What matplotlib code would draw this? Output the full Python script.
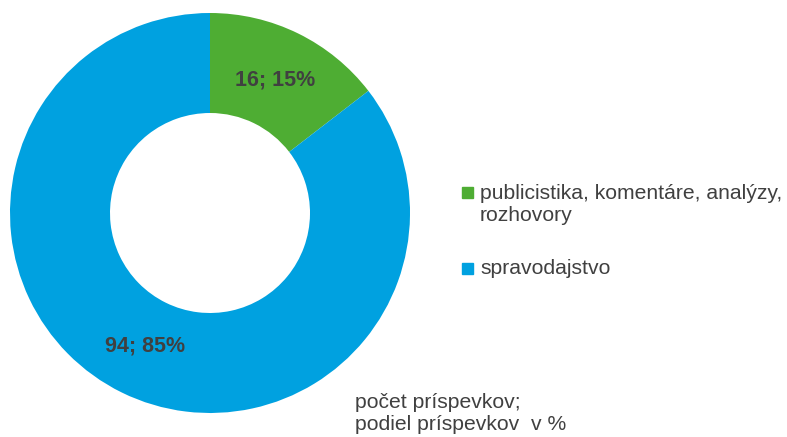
import matplotlib
matplotlib.use("Agg")
import matplotlib.pyplot as plt
from matplotlib.patches import Rectangle
import numpy as np

categories = ["publicistika, komentáre, analýzy,\nrozhovory", "spravodajstvo"]
counts = [16, 94]
percents = [15, 85]
colors = ["#4EAD33", "#00A1E0"]
note = "počet príspevkov;\npodiel príspevkov  v %"

plt.rcParams['font.family'] = ['Liberation Sans', 'DejaVu Sans']
W, H = 787, 437
fig = plt.figure(figsize=(W / 100, H / 100), dpi=100)

ax = fig.add_axes([10 / W, 24 / H, 400 / W, 400 / H])
labels_txt = [f"{c}; {p}%" for c, p in zip(counts, percents)]
wedges, _ = ax.pie(counts, colors=colors, startangle=90, counterclock=False,
                   radius=1.0, wedgeprops=dict(width=0.5, linewidth=0))
for w, t in zip(wedges, labels_txt):
    ang = np.deg2rad((w.theta1 + w.theta2) / 2)
    ax.text(0.74 * np.cos(ang), 0.74 * np.sin(ang), t, ha='center', va='center',
            fontsize=15.5, fontweight='bold', color='#404040')
ax.set_xlim(-1, 1)
ax.set_ylim(-1, 1)
ax.set_aspect('equal')
ax.axis('off')

# legend (manual)
ys = [193, 268]
for lab, col, y in zip(categories, colors, ys):
    fig.patches.append(Rectangle((462 / W, 1 - (y + 5.5) / H), 11 / W, 11 / H,
                                 transform=fig.transFigure, color=col, figure=fig))
    fig.text(480 / W, 1 - (y - 9) / H, lab, ha='left', va='top', fontsize=15.2,
             color='#404040', linespacing=1.2)

fig.text(355 / W, 1 - 393 / H, note, ha='left', va='top', fontsize=15.2,
         color='#404040', linespacing=1.2)

fig.savefig("out.png", dpi=100)
